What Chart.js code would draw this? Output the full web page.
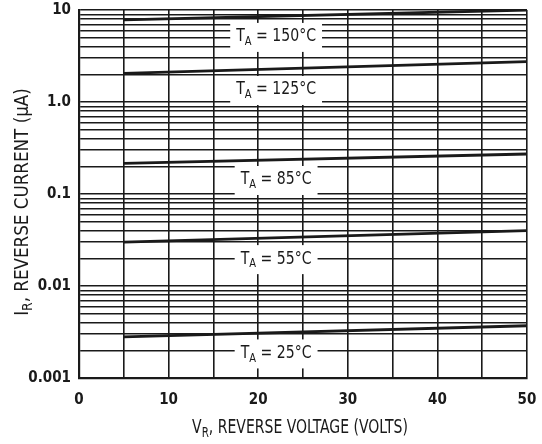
<!DOCTYPE html>
<html><head><meta charset="utf-8">
<script src="https://cdn.jsdelivr.net/npm/chart.js@4/dist/chart.umd.min.js"></script>
<style>html,body{margin:0;padding:0;background:#fff}</style>
</head><body>
<canvas id="c" width="542" height="444"></canvas>
<script>
// ---- data ----
const voltages = [5, 50];
const temps = ['150', '125', '85', '55', '25'];
const ir150 = [7.8, 10.0];
const ir125 = [2.05, 2.75];
const ir85 = [0.215, 0.272];
const ir55 = [0.030, 0.040];
const ir25 = [0.0028, 0.0037];
const xTickValues = [0, 5, 10, 15, 20, 25, 30, 35, 40, 45, 50];
const xTickLabels = ['0', '', '10', '', '20', '', '30', '', '40', '', '50'];
const yDecades = [0.001, 0.01, 0.1, 1, 10];
const yTickLabels = ['0.001', '0.01', '0.1', '1.0', '10'];
const labelVolt = [22, 22, 22, 22, 22];
const labelCurrent = [5.1, 1.35, 0.142, 0.0196, 0.00185];

const FONT = '"DejaVu Sans Condensed","Liberation Sans Narrow",sans-serif';
const INK = '#1a1a1a';

const seriesVals = [ir150, ir125, ir85, ir55, ir25];
const datasets = seriesVals.map((vals, i) => ({
  label: 'TA = ' + temps[i] + '°C',
  data: voltages.map((v, j) => ({x: v, y: vals[j]})),
  borderColor: INK, borderWidth: 2.8, pointRadius: 0, tension: 0, fill: false
}));

function yGridTicks() {
  const out = [];
  for (let d = 0; d < yDecades.length; d++) {
    out.push({value: yDecades[d]});
    if (d < yDecades.length - 1) {
      for (let m = 2; m <= 9; m++) out.push({value: +(yDecades[d] * m).toPrecision(6)});
    }
  }
  return out;
}

function drawParts(ctx, parts, size, x, y, align, sx) {
  sx = sx || 1;
  const subSize = Math.round(size * 0.72);
  let w = 0;
  parts.forEach(p => {
    ctx.font = (p.sub ? subSize : size) + 'px ' + FONT;
    p.w = ctx.measureText(p.t).width; w += p.w;
  });
  ctx.save();
  ctx.translate(x, y);
  ctx.scale(sx, 1);
  let cx = align === 'center' ? -w / 2 : 0;
  ctx.textBaseline = 'middle';
  ctx.textAlign = 'left';
  parts.forEach(p => {
    ctx.font = (p.sub ? subSize : size) + 'px ' + FONT;
    ctx.fillText(p.t, cx, p.sub ? size * 0.3 : 0);
    cx += p.w;
  });
  ctx.restore();
  return w * sx;
}

function measureParts(ctx, parts, size, sx) {
  const subSize = Math.round(size * 0.72);
  let w = 0;
  parts.forEach(p => {
    ctx.font = (p.sub ? subSize : size) + 'px ' + FONT;
    w += ctx.measureText(p.t).width;
  });
  return w * (sx || 1);
}

const labelsPlugin = {
  id: 'tlabels',
  beforeDatasetsDraw(chart) {
    const ctx = chart.ctx, xs = chart.scales.x, ys = chart.scales.y;
    ctx.save();
    temps.forEach((t, i) => {
      const px = xs.getPixelForValue(labelVolt[i]);
      const py = ys.getPixelForValue(labelCurrent[i]);
      const parts = [{t: 'T'}, {t: 'A', sub: true}, {t: ' = ' + t + '°C'}];
      const w = measureParts(ctx, parts, 17, 0.92);
      ctx.fillStyle = '#fff';
      ctx.fillRect(px - w / 2 - 6, py - 14, w + 12, 29);
      ctx.fillStyle = INK;
      drawParts(ctx, parts, 17, px, py, 'center', 0.92);
    });
    ctx.restore();
  },
  afterDraw(chart) {
    const ctx = chart.ctx;
    ctx.save();
    ctx.fillStyle = INK;
    drawParts(ctx, [{t: 'V'}, {t: 'R', sub: true}, {t: ', REVERSE VOLTAGE (VOLTS)'}], 19, 300, 428, 'center', 0.82);
    ctx.translate(23, 202);
    ctx.rotate(-Math.PI / 2);
    drawParts(ctx, [{t: 'I'}, {t: 'R', sub: true}, {t: ', REVERSE CURRENT (µA)'}], 19, 0, 0, 'center', 0.98);
    ctx.restore();
  }
};

new Chart(document.getElementById('c'), {
  type: 'line',
  data: {datasets},
  plugins: [labelsPlugin],
  options: {
    responsive: false, animation: false, devicePixelRatio: 1,
    layout: {padding: {left: 0, right: 15, top: 10, bottom: 0}},
    plugins: {legend: {display: false}, tooltip: {enabled: false}},
    scales: {
      x: {
        type: 'linear', min: 0, max: 50,
        afterBuildTicks: s => { s.ticks = xTickValues.map(v => ({value: v})); },
        afterFit: s => { s.height = 66; s.paddingLeft = 0; s.paddingRight = 0; },
        ticks: {
          autoSkip: false, maxRotation: 0, padding: 13, color: INK,
          font: {family: FONT, size: 15, weight: 'bold'},
          callback: (v) => xTickLabels[xTickValues.indexOf(v)]
        },
        grid: {color: INK, lineWidth: 1.6, drawTicks: false},
        border: {color: INK, width: 2.2}
      },
      y: {
        type: 'logarithmic', min: 0.001, max: 10,
        afterBuildTicks: s => { s.ticks = yGridTicks(); },
        afterFit: s => { s.width = 79; s.paddingTop = 0; s.paddingBottom = 0; },
        ticks: {
          autoSkip: false, padding: 8, color: INK,
          font: {family: FONT, size: 15, weight: 'bold'},
          callback: (v) => {
            const k = yDecades.findIndex(d => Math.abs(d - v) / d < 1e-6);
            return k >= 0 ? yTickLabels[k] : '';
          }
        },
        grid: {color: INK, lineWidth: 1.4, drawTicks: false},
        border: {color: INK, width: 2.2}
      }
    }
  }
});
</script>
</body></html>
